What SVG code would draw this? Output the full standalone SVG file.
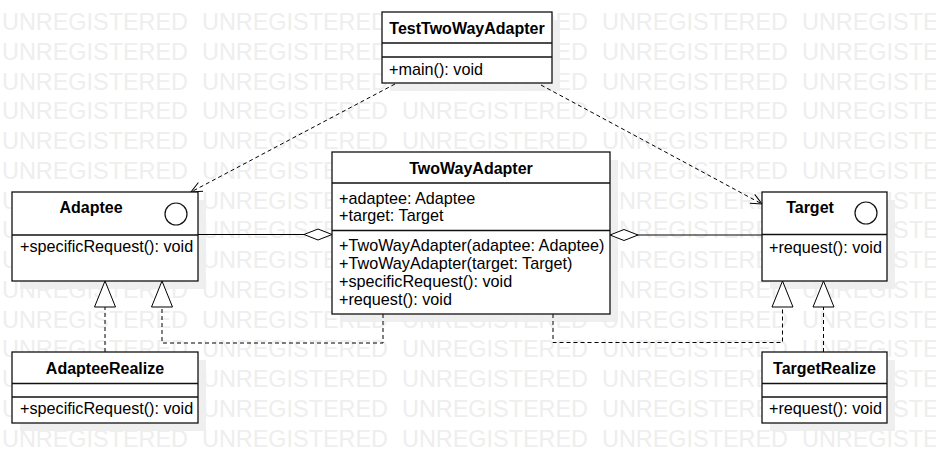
<svg xmlns="http://www.w3.org/2000/svg" width="936" height="473" viewBox="0 0 936 473">
<style>
.wm{font-family:"Liberation Sans",Arial,sans-serif;font-size:24px;fill:#eeeeee}
.sh{fill:#efefef}
.box{fill:#fff;stroke:#111;stroke-width:1.3}
.sep{stroke:#111;stroke-width:1.3}
.t{font-family:"Liberation Sans",Arial,sans-serif;font-size:16px;font-weight:bold;fill:#000;text-anchor:middle}
.m{font-family:"Liberation Sans",Arial,sans-serif;font-size:16.2px;fill:#000}
.ic{fill:#fff;stroke:#111;stroke-width:1.2}
.ln{fill:none;stroke:#000;stroke-width:1}
.dash{fill:none;stroke:#000;stroke-width:1;stroke-dasharray:4 3}
</style>
<defs>
<marker id="open" markerUnits="userSpaceOnUse" markerWidth="14" markerHeight="14" refX="11" refY="5" orient="auto" overflow="visible">
<path d="M0,0 L11,5 L0,10" fill="none" stroke="#000" stroke-width="1"/>
</marker>
<marker id="tri" markerUnits="userSpaceOnUse" markerWidth="28" markerHeight="24" refX="26" refY="10.5" orient="auto" overflow="visible">
<path d="M0,0 L26,10.5 L0,21 Z" fill="#fff" stroke="#000" stroke-width="1"/>
</marker>
<marker id="dia" markerUnits="userSpaceOnUse" markerWidth="30" markerHeight="14" refX="0" refY="5.5" orient="auto" overflow="visible">
<path d="M0,5.5 L14,0 L28,5.5 L14,11 Z" fill="#fff" stroke="#000" stroke-width="1"/>
</marker>
</defs>
<rect width="936" height="473" fill="#fff"/>
<g id="shadows">
<rect class="sh" x="390" y="20" width="170" height="71"/>
<rect class="sh" x="20" y="200" width="186" height="89"/>
<rect class="sh" x="340" y="160" width="278" height="162"/>
<rect class="sh" x="770" y="200" width="125" height="89"/>
<rect class="sh" x="20" y="360" width="186" height="71"/>
<rect class="sh" x="770" y="360" width="125" height="71"/>
</g>
<g id="watermark">
<text class="wm" x="2" y="30" textLength="186" lengthAdjust="spacingAndGlyphs">UNREGISTERED</text>
<text class="wm" x="202" y="30" textLength="186" lengthAdjust="spacingAndGlyphs">UNREGISTERED</text>
<text class="wm" x="402" y="30" textLength="186" lengthAdjust="spacingAndGlyphs">UNREGISTERED</text>
<text class="wm" x="602" y="30" textLength="186" lengthAdjust="spacingAndGlyphs">UNREGISTERED</text>
<text class="wm" x="802" y="30" textLength="186" lengthAdjust="spacingAndGlyphs">UNREGISTERED</text>
<text class="wm" x="2" y="60" textLength="186" lengthAdjust="spacingAndGlyphs">UNREGISTERED</text>
<text class="wm" x="202" y="60" textLength="186" lengthAdjust="spacingAndGlyphs">UNREGISTERED</text>
<text class="wm" x="402" y="60" textLength="186" lengthAdjust="spacingAndGlyphs">UNREGISTERED</text>
<text class="wm" x="602" y="60" textLength="186" lengthAdjust="spacingAndGlyphs">UNREGISTERED</text>
<text class="wm" x="802" y="60" textLength="186" lengthAdjust="spacingAndGlyphs">UNREGISTERED</text>
<text class="wm" x="2" y="89.5" textLength="186" lengthAdjust="spacingAndGlyphs">UNREGISTERED</text>
<text class="wm" x="202" y="89.5" textLength="186" lengthAdjust="spacingAndGlyphs">UNREGISTERED</text>
<text class="wm" x="402" y="89.5" textLength="186" lengthAdjust="spacingAndGlyphs">UNREGISTERED</text>
<text class="wm" x="602" y="89.5" textLength="186" lengthAdjust="spacingAndGlyphs">UNREGISTERED</text>
<text class="wm" x="802" y="89.5" textLength="186" lengthAdjust="spacingAndGlyphs">UNREGISTERED</text>
<text class="wm" x="2" y="119" textLength="186" lengthAdjust="spacingAndGlyphs">UNREGISTERED</text>
<text class="wm" x="202" y="119" textLength="186" lengthAdjust="spacingAndGlyphs">UNREGISTERED</text>
<text class="wm" x="402" y="119" textLength="186" lengthAdjust="spacingAndGlyphs">UNREGISTERED</text>
<text class="wm" x="602" y="119" textLength="186" lengthAdjust="spacingAndGlyphs">UNREGISTERED</text>
<text class="wm" x="802" y="119" textLength="186" lengthAdjust="spacingAndGlyphs">UNREGISTERED</text>
<text class="wm" x="2" y="149" textLength="186" lengthAdjust="spacingAndGlyphs">UNREGISTERED</text>
<text class="wm" x="202" y="149" textLength="186" lengthAdjust="spacingAndGlyphs">UNREGISTERED</text>
<text class="wm" x="402" y="149" textLength="186" lengthAdjust="spacingAndGlyphs">UNREGISTERED</text>
<text class="wm" x="602" y="149" textLength="186" lengthAdjust="spacingAndGlyphs">UNREGISTERED</text>
<text class="wm" x="802" y="149" textLength="186" lengthAdjust="spacingAndGlyphs">UNREGISTERED</text>
<text class="wm" x="2" y="179" textLength="186" lengthAdjust="spacingAndGlyphs">UNREGISTERED</text>
<text class="wm" x="202" y="179" textLength="186" lengthAdjust="spacingAndGlyphs">UNREGISTERED</text>
<text class="wm" x="402" y="179" textLength="186" lengthAdjust="spacingAndGlyphs">UNREGISTERED</text>
<text class="wm" x="602" y="179" textLength="186" lengthAdjust="spacingAndGlyphs">UNREGISTERED</text>
<text class="wm" x="802" y="179" textLength="186" lengthAdjust="spacingAndGlyphs">UNREGISTERED</text>
<text class="wm" x="2" y="208.5" textLength="186" lengthAdjust="spacingAndGlyphs">UNREGISTERED</text>
<text class="wm" x="202" y="208.5" textLength="186" lengthAdjust="spacingAndGlyphs">UNREGISTERED</text>
<text class="wm" x="402" y="208.5" textLength="186" lengthAdjust="spacingAndGlyphs">UNREGISTERED</text>
<text class="wm" x="602" y="208.5" textLength="186" lengthAdjust="spacingAndGlyphs">UNREGISTERED</text>
<text class="wm" x="802" y="208.5" textLength="186" lengthAdjust="spacingAndGlyphs">UNREGISTERED</text>
<text class="wm" x="2" y="238" textLength="186" lengthAdjust="spacingAndGlyphs">UNREGISTERED</text>
<text class="wm" x="202" y="238" textLength="186" lengthAdjust="spacingAndGlyphs">UNREGISTERED</text>
<text class="wm" x="402" y="238" textLength="186" lengthAdjust="spacingAndGlyphs">UNREGISTERED</text>
<text class="wm" x="602" y="238" textLength="186" lengthAdjust="spacingAndGlyphs">UNREGISTERED</text>
<text class="wm" x="802" y="238" textLength="186" lengthAdjust="spacingAndGlyphs">UNREGISTERED</text>
<text class="wm" x="2" y="268" textLength="186" lengthAdjust="spacingAndGlyphs">UNREGISTERED</text>
<text class="wm" x="202" y="268" textLength="186" lengthAdjust="spacingAndGlyphs">UNREGISTERED</text>
<text class="wm" x="402" y="268" textLength="186" lengthAdjust="spacingAndGlyphs">UNREGISTERED</text>
<text class="wm" x="602" y="268" textLength="186" lengthAdjust="spacingAndGlyphs">UNREGISTERED</text>
<text class="wm" x="802" y="268" textLength="186" lengthAdjust="spacingAndGlyphs">UNREGISTERED</text>
<text class="wm" x="2" y="298" textLength="186" lengthAdjust="spacingAndGlyphs">UNREGISTERED</text>
<text class="wm" x="202" y="298" textLength="186" lengthAdjust="spacingAndGlyphs">UNREGISTERED</text>
<text class="wm" x="402" y="298" textLength="186" lengthAdjust="spacingAndGlyphs">UNREGISTERED</text>
<text class="wm" x="602" y="298" textLength="186" lengthAdjust="spacingAndGlyphs">UNREGISTERED</text>
<text class="wm" x="802" y="298" textLength="186" lengthAdjust="spacingAndGlyphs">UNREGISTERED</text>
<text class="wm" x="2" y="327.5" textLength="186" lengthAdjust="spacingAndGlyphs">UNREGISTERED</text>
<text class="wm" x="202" y="327.5" textLength="186" lengthAdjust="spacingAndGlyphs">UNREGISTERED</text>
<text class="wm" x="402" y="327.5" textLength="186" lengthAdjust="spacingAndGlyphs">UNREGISTERED</text>
<text class="wm" x="602" y="327.5" textLength="186" lengthAdjust="spacingAndGlyphs">UNREGISTERED</text>
<text class="wm" x="802" y="327.5" textLength="186" lengthAdjust="spacingAndGlyphs">UNREGISTERED</text>
<text class="wm" x="2" y="357" textLength="186" lengthAdjust="spacingAndGlyphs">UNREGISTERED</text>
<text class="wm" x="202" y="357" textLength="186" lengthAdjust="spacingAndGlyphs">UNREGISTERED</text>
<text class="wm" x="402" y="357" textLength="186" lengthAdjust="spacingAndGlyphs">UNREGISTERED</text>
<text class="wm" x="602" y="357" textLength="186" lengthAdjust="spacingAndGlyphs">UNREGISTERED</text>
<text class="wm" x="802" y="357" textLength="186" lengthAdjust="spacingAndGlyphs">UNREGISTERED</text>
<text class="wm" x="2" y="387" textLength="186" lengthAdjust="spacingAndGlyphs">UNREGISTERED</text>
<text class="wm" x="202" y="387" textLength="186" lengthAdjust="spacingAndGlyphs">UNREGISTERED</text>
<text class="wm" x="402" y="387" textLength="186" lengthAdjust="spacingAndGlyphs">UNREGISTERED</text>
<text class="wm" x="602" y="387" textLength="186" lengthAdjust="spacingAndGlyphs">UNREGISTERED</text>
<text class="wm" x="802" y="387" textLength="186" lengthAdjust="spacingAndGlyphs">UNREGISTERED</text>
<text class="wm" x="2" y="417" textLength="186" lengthAdjust="spacingAndGlyphs">UNREGISTERED</text>
<text class="wm" x="202" y="417" textLength="186" lengthAdjust="spacingAndGlyphs">UNREGISTERED</text>
<text class="wm" x="402" y="417" textLength="186" lengthAdjust="spacingAndGlyphs">UNREGISTERED</text>
<text class="wm" x="602" y="417" textLength="186" lengthAdjust="spacingAndGlyphs">UNREGISTERED</text>
<text class="wm" x="802" y="417" textLength="186" lengthAdjust="spacingAndGlyphs">UNREGISTERED</text>
<text class="wm" x="2" y="446.5" textLength="186" lengthAdjust="spacingAndGlyphs">UNREGISTERED</text>
<text class="wm" x="202" y="446.5" textLength="186" lengthAdjust="spacingAndGlyphs">UNREGISTERED</text>
<text class="wm" x="402" y="446.5" textLength="186" lengthAdjust="spacingAndGlyphs">UNREGISTERED</text>
<text class="wm" x="602" y="446.5" textLength="186" lengthAdjust="spacingAndGlyphs">UNREGISTERED</text>
<text class="wm" x="802" y="446.5" textLength="186" lengthAdjust="spacingAndGlyphs">UNREGISTERED</text>
</g>
<g id="connectors">
<path class="ln" d="M332,234.5 H198" marker-start="url(#dia)"/>
<path class="ln" d="M610,235 H762" marker-start="url(#dia)"/>
<path class="dash" d="M395,84 L191,192" marker-end="url(#open)"/>
<path class="dash" d="M541,85 L762,204" marker-end="url(#open)"/>
<path class="dash" d="M105,352 V281" marker-end="url(#tri)"/>
<path class="dash" d="M383,314 V343 H162 V281" marker-end="url(#tri)"/>
<path class="dash" d="M553,314 V342.5 H782.5 V281" marker-end="url(#tri)"/>
<path class="dash" d="M823.5,352 V281" marker-end="url(#tri)"/>
</g>
<g id="TestTwoWayAdapter">
<rect class="box" x="382" y="12" width="170" height="71"/>
<line class="sep" x1="382" y1="43" x2="552" y2="43"/>
<line class="sep" x1="382" y1="57" x2="552" y2="57"/>
<text class="t" x="467" y="34">TestTwoWayAdapter</text>
<text class="m" x="389" y="74.5">+main(): void</text>
</g>
<g id="Adaptee">
<rect class="box" x="12" y="192" width="186" height="89"/>
<line class="sep" x1="12" y1="235" x2="198" y2="235"/>
<text class="t" x="91" y="213">Adaptee</text>
<circle class="ic" cx="176" cy="214" r="11"/>
<text class="m" x="20" y="252">+specificRequest(): void</text>
</g>
<g id="TwoWayAdapter">
<rect class="box" x="332" y="152" width="278" height="162"/>
<line class="sep" x1="332" y1="183" x2="610" y2="183"/>
<line class="sep" x1="332" y1="230.5" x2="610" y2="230.5"/>
<text class="t" x="471" y="174">TwoWayAdapter</text>
<text class="m" x="339" y="203.5">+adaptee: Adaptee</text>
<text class="m" x="339" y="221">+target: Target</text>
<text class="m" x="339" y="251">+TwoWayAdapter(adaptee: Adaptee)</text>
<text class="m" x="339" y="269">+TwoWayAdapter(target: Target)</text>
<text class="m" x="339" y="287">+specificRequest(): void</text>
<text class="m" x="339" y="305">+request(): void</text>
</g>
<g id="Target">
<rect class="box" x="762" y="192" width="125" height="89"/>
<line class="sep" x1="762" y1="234.5" x2="887" y2="234.5"/>
<text class="t" x="810" y="213">Target</text>
<circle class="ic" cx="866" cy="213" r="11"/>
<text class="m" x="769" y="253">+request(): void</text>
</g>
<g id="AdapteeRealize">
<rect class="box" x="12" y="352" width="186" height="71"/>
<line class="sep" x1="12" y1="383.5" x2="198" y2="383.5"/>
<line class="sep" x1="12" y1="397" x2="198" y2="397"/>
<text class="t" x="105" y="374">AdapteeRealize</text>
<text class="m" x="20" y="414">+specificRequest(): void</text>
</g>
<g id="TargetRealize">
<rect class="box" x="762" y="352" width="125" height="71"/>
<line class="sep" x1="762" y1="383.5" x2="887" y2="383.5"/>
<line class="sep" x1="762" y1="397" x2="887" y2="397"/>
<text class="t" x="824.5" y="374">TargetRealize</text>
<text class="m" x="769" y="414">+request(): void</text>
</g>
</svg>
